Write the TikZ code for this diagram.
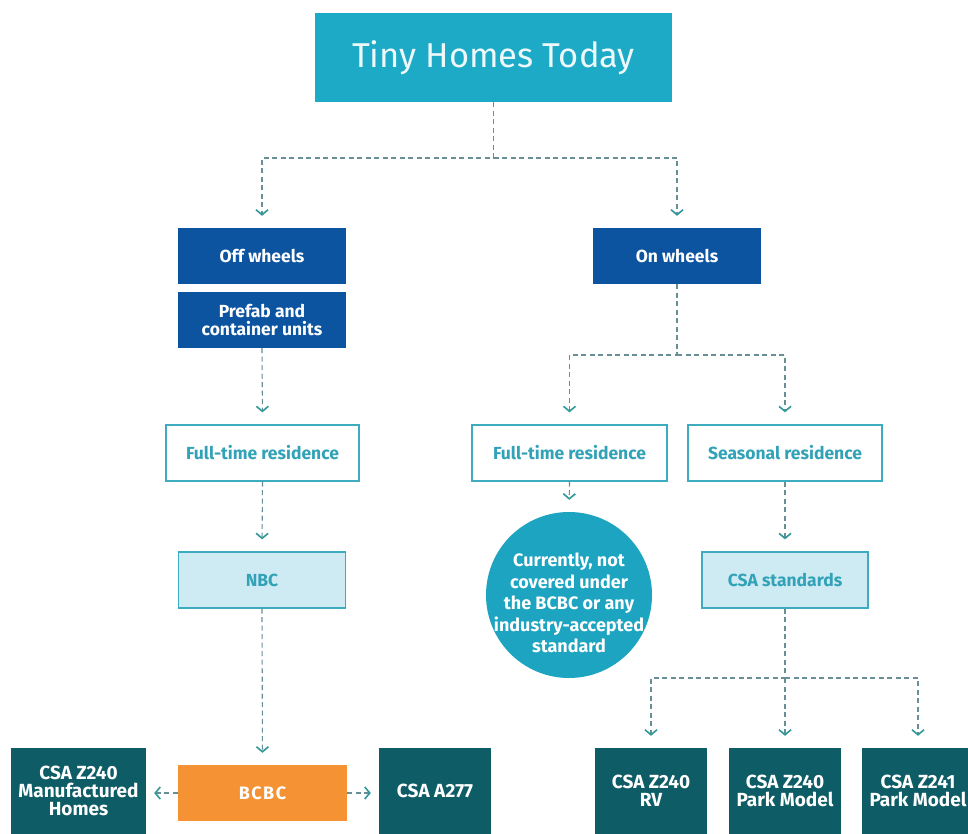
\documentclass[tikz,border=0pt]{standalone}
\usepackage{fontspec}
\setmainfont{Fira Sans}
\usetikzlibrary{arrows.meta}
\definecolor{titlec}{RGB}{28,170,198}
\definecolor{dblue}{RGB}{12,84,160}
\definecolor{tealline}{RGB}{62,172,192}
\definecolor{tealtext}{RGB}{50,162,184}
\definecolor{lightfill}{RGB}{206,234,242}
\definecolor{orangec}{RGB}{244,146,52}
\definecolor{dteal}{RGB}{14,92,102}
\definecolor{circc}{RGB}{28,164,192}
\definecolor{linec}{RGB}{104,142,150}
\definecolor{arrowc}{RGB}{48,152,152}
\tikzset{
  basebox/.style={rectangle, align=center, inner sep=0pt, minimum height=56pt,
    font=\bfseries\fontsize{17.5}{18}\selectfont},
  dbox/.style={basebox, fill=dblue, text=white, minimum width=168pt},
  obox/.style={basebox, draw=tealline, line width=1.3pt, fill=white, text=tealtext},
  lbox/.style={basebox, draw=tealline, line width=1.3pt, fill=lightfill, text=tealtext, minimum width=167pt},
  orbox/.style={basebox, fill=orangec, text=white, minimum width=169pt,
    font=\bfseries\fontsize{18}{18}\addfontfeature{LetterSpace=8}\selectfont},
  tbox/.style={basebox, fill=dteal, text=white, minimum width=112pt, minimum height=86pt,
    font=\bfseries\fontsize{19}{18}\selectfont},
  conn/.style={draw=linec, line width=1.1pt, dash pattern=on 5pt off 3.5pt,
    -{Straight Barb[length=5pt,width=12pt,color=arrowc,line width=1.6pt]},
    shorten >=12pt},
}
\begin{document}
\begin{tikzpicture}[x=1pt,y=-1pt]
\useasboundingbox (0,0) rectangle (968,834);
\clip (0,0) rectangle (968,834);
\fill[white] (0,0) rectangle (968,834);

\node[rectangle, fill=titlec, text=white!92!titlec, minimum width=357pt, minimum height=89pt,
  font=\fontsize{34.5}{40}\selectfont] (title) at (493.5,57.5) {Tiny Homes Today};

\node[dbox] (off) at (262,256) {Off wheels};
\node[dbox] (prefab) at (262,320) {Prefab and\\container units};
\node[dbox] (on) at (677,256) {On wheels};

\node[obox, minimum width=193pt] (ft1) at (262.5,453) {Full-time residence};
\node[obox, minimum width=195pt] (ft2) at (569.5,453) {Full-time residence};
\node[obox, minimum width=194pt] (seas) at (785,453) {Seasonal residence};

\node[lbox] (nbc) at (262,580) {NBC};
\node[lbox, minimum width=166pt] (csa) at (785,580) {CSA standards};

\node[circle, fill=circc, minimum size=166pt, inner sep=0pt] (circ) at (569,595) {};
\node[align=center, text=white, inner sep=0pt,
  font=\bfseries\fontsize{18}{21.5}\selectfont] (circtext) at (569,603)
  {Currently, not\\covered under\\the BCBC or any\\industry-accepted\\standard};

\node[orbox] (bcbc) at (262.5,793) {BCBC};
\node[tbox, minimum width=135pt] (mh) at (78.5,791) {CSA Z240\\Manufactured\\Homes};
\node[tbox] (a277) at (435,791) {CSA A277};
\node[tbox] (rv) at (651,791) {CSA Z240\\RV};
\node[tbox] (pm240) at (785,791) {CSA Z240\\Park Model};
\node[tbox] (pm241) at (918,791) {CSA Z241\\Park Model};

\coordinate (j1) at (493.5,158);
\coordinate (j2) at (677,355);
\coordinate (j3) at (785,678);

\draw[conn] (title.south) -- (j1) -| (off.north);
\draw[conn] (j1) -| (on.north);
\draw[conn] (prefab.south) -- (ft1.north);
\draw[conn] (ft1.south) -- (nbc.north);
\draw[conn] (nbc.south) -- (bcbc.north);
\draw[conn, shorten >=8pt] (bcbc.west) -- (bcbc.west -| mh.east);
\draw[conn, shorten >=8pt] (bcbc.east) -- (bcbc.east -| a277.west);

\draw[conn] (on.south) -- (j2) -| (ft2.north);
\draw[conn] (j2) -| (seas.north);
\draw[conn] (ft2.south) -- (circ.north);
\draw[conn] (seas.south) -- (csa.north);
\draw[conn] (csa.south) -- (j3) -| (rv.north);
\draw[conn] (j3) -- (pm240.north);
\draw[conn] (j3) -| (pm241.north);
\end{tikzpicture}
\end{document}
